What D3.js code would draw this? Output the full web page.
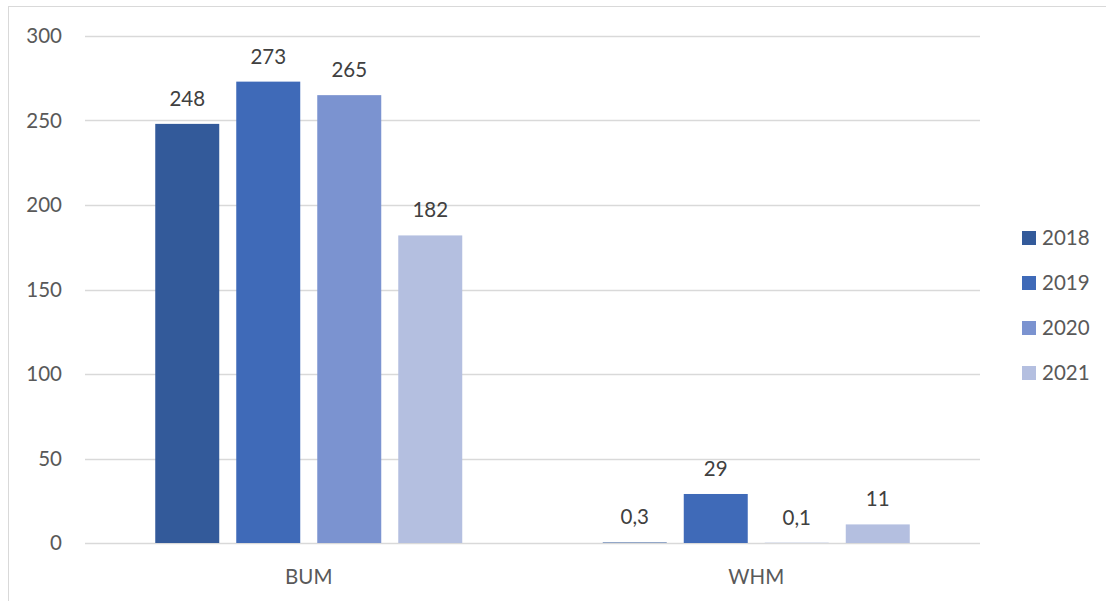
<!DOCTYPE html>
<html><head><meta charset="utf-8">
<script src="https://cdn.jsdelivr.net/npm/d3@7"></script>
<style>body{margin:0;background:#fff}svg{display:block}text{font-family:Lato,"Open Sans",sans-serif}</style>
</head><body><svg id="c" width="1106" height="601"></svg>
<script>
const categories = ["BUM", "WHM"];
const years = ["2018", "2019", "2020", "2021"];
const values2018 = [248, 0.3];
const values2019 = [273, 29];
const values2020 = [265, 0.1];
const values2021 = [182, 11];
const labels2018 = ["248", "0,3"];
const labels2019 = ["273", "29"];
const labels2020 = ["265", "0,1"];
const labels2021 = ["182", "11"];
const yTicks = [0, 50, 100, 150, 200, 250, 300];
const colors = ["#335a9a", "#3f6ab8", "#7b93d0", "#b4bfe0"];

(function () {
const series = [values2018, values2019, values2020, values2021];
const seriesLabels = [labels2018, labels2019, labels2020, labels2021];
const fs = 20.5;

const svg = d3.select("#c");
svg.append("rect").attr("x", 8.5).attr("y", 6.5).attr("width", 1200).attr("height", 700)
  .attr("fill", "none").attr("stroke", "#d9d9d9");

const pl = 85, pr = 980, pt = 36, pb = 543;
const y = d3.scaleLinear().domain([0, 300]).range([pb, pt]);
const x0 = d3.scaleBand().domain(categories).range([pl, pr]).padding(0);
const groupW = 307;
const x1 = d3.scaleBand().domain(years).range([0, groupW]).paddingInner(0.21).paddingOuter(0);

svg.append("g").selectAll("line").data(yTicks).join("line")
  .attr("x1", pl).attr("x2", pr)
  .attr("y1", d => Math.round(y(d)) + 0.5).attr("y2", d => Math.round(y(d)) + 0.5)
  .attr("stroke", "#d9d9d9").attr("stroke-width", 1.3);

svg.append("g").selectAll("text").data(yTicks).join("text")
  .attr("x", 62).attr("y", d => y(d)).attr("dy", "0.35em")
  .attr("text-anchor", "end").attr("fill", "#595959").attr("font-size", fs)
  .text(d => d);

const rows = [];
categories.forEach((c, ci) => years.forEach((yr, si) => rows.push({c, yr, si, v: series[si][ci], lab: seriesLabels[si][ci]})));
const gx = c => x0(c) + (x0.bandwidth() - groupW) / 2;
svg.append("g").selectAll("rect").data(rows).join("rect")
  .attr("x", d => gx(d.c) + x1(d.yr)).attr("width", x1.bandwidth())
  .attr("y", d => y(d.v)).attr("height", d => y(0) - y(d.v))
  .attr("fill", d => colors[d.si]);

svg.append("g").selectAll("text").data(rows).join("text")
  .attr("x", d => gx(d.c) + x1(d.yr) + x1.bandwidth() / 2)
  .attr("y", d => y(d.v) - 18)
  .attr("text-anchor", "middle").attr("fill", "#404040").attr("font-size", fs)
  .text(d => d.lab);

svg.append("g").selectAll("text").data(categories).join("text")
  .attr("x", d => x0(d) + x0.bandwidth() / 2).attr("y", 577).attr("dy", "0.35em")
  .attr("text-anchor", "middle").attr("fill", "#595959").attr("font-size", fs)
  .text(d => d);

const lg = svg.append("g").selectAll("g").data(years).join("g")
  .attr("transform", (d, i) => `translate(1022, ${238 + i * 45})`);
lg.append("rect").attr("x", 0).attr("y", -7).attr("width", 14).attr("height", 14)
  .attr("fill", (d, i) => colors[i]);
lg.append("text").attr("x", 20).attr("y", 0).attr("dy", "0.35em")
  .attr("fill", "#595959").attr("font-size", fs).text(d => d);
})();
</script></body></html>
